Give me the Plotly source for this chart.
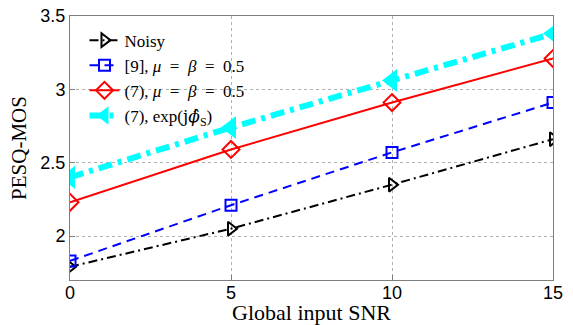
import plotly.graph_objects as go

snr = [0, 5, 10, 15]
noisy = [1.79, 2.05, 2.35, 2.66]
ref9 = [1.83, 2.21, 2.57, 2.91]
eq7 = [2.23, 2.59, 2.91, 3.21]
eq7_exp = [2.40, 2.74, 3.06, 3.38]

sp = "\u2002"
names = [
    "Noisy",
    f"[9], <i>μ</i>{sp}={sp}<i>β</i>{sp}={sp}0.5",
    f"(7), <i>μ</i>{sp}={sp}<i>β</i>{sp}={sp}0.5",
    "(7), exp(<span style='font-family:DejaVu Serif'>j<i>ϕ̂</i></span><sub>S</sub>)",
]

fig = go.Figure()
fig.add_trace(go.Scatter(x=snr, y=noisy, name=names[0], mode="lines+markers",
                         line=dict(color="black", width=2, dash="9px,4px,2px,4px"),
                         marker=dict(symbol="triangle-right-open", size=12, color="black", line=dict(width=2))))
fig.add_trace(go.Scatter(x=snr, y=ref9, name=names[1], mode="lines+markers",
                         line=dict(color="#0000ff", width=2, dash="9px,6px"),
                         marker=dict(symbol="square-open", size=11, color="#0000ff", line=dict(width=2))))
fig.add_trace(go.Scatter(x=snr, y=eq7, name=names[2], mode="lines+markers",
                         line=dict(color="#ff0000", width=2),
                         marker=dict(symbol="diamond-open", size=13, color="#ff0000", line=dict(width=2))))
fig.add_trace(go.Scatter(x=snr, y=eq7_exp, name=names[3], mode="lines+markers",
                         line=dict(color="#00ffff", width=6, dash="14px,6px,4px,6px"),
                         marker=dict(symbol="triangle-left", size=20, color="#00ffff")))

axis_common = dict(showline=True, linecolor="#7f7f7f", linewidth=1, mirror=True,
                   ticks="inside", ticklen=5, tickcolor="#7f7f7f",
                   showgrid=True, gridcolor="#b0b0b0", griddash="dot", gridwidth=1,
                   zeroline=False, automargin=False, ticklabeloverflow="allow",
                   tickfont=dict(family="Liberation Sans", size=18, color="black"))

fig.update_xaxes(range=[0, 15], tickvals=[0, 5, 10, 15], ticklabelstandoff=-4,
                 title=dict(text="Global input SNR", font=dict(family="Liberation Serif", size=22, color="black"), standoff=2),
                 **axis_common)
fig.update_yaxes(range=[1.7, 3.5], tickvals=[2, 2.5, 3, 3.5], ticktext=["2", "2.5", "3", "3.5"],
                 title=dict(text="PESQ-MOS", font=dict(family="Liberation Serif", size=21, color="black"), standoff=8),
                 **axis_common)

fig.update_layout(
    width=573, height=325,
    margin=dict(l=70, r=20, t=16, b=45),
    plot_bgcolor="white", paper_bgcolor="white",
    showlegend=True,
    legend=dict(x=0.03, y=0.975, xanchor="left", yanchor="top",
                bgcolor="rgba(255,255,255,0)", borderwidth=0,
                font=dict(family="Liberation Serif", size=17, color="black"),
                tracegroupgap=0),
)

fig.write_html("out.html", config={"displayModeBar": False},
               post_script="document.body.style.margin='0';")
